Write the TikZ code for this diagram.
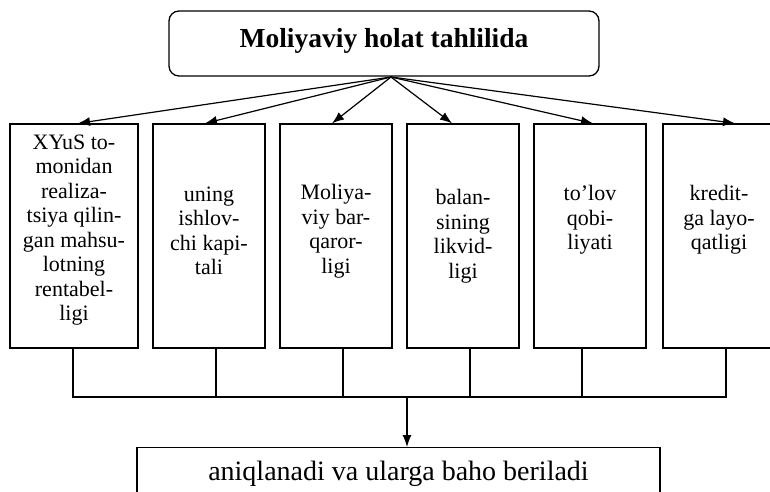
\documentclass[tikz,border=0pt]{standalone}
\usepackage{fontspec}
\setmainfont{Liberation Serif}
\usetikzlibrary{arrows.meta}

\begin{document}
\begin{tikzpicture}[x=1pt,y=-1pt,
  headbox/.style={draw, line width=1.3pt, rounded corners=10pt, minimum width=430pt, minimum height=65pt,
    text height=19pt, text depth=12pt, font=\fontsize{27.5}{30}\selectfont\bfseries},
  itembox/.style={draw, line width=1.3pt, minimum width=112pt, minimum height=224pt, inner sep=0pt},
  itemtext/.style={align=center, inner sep=0pt, font=\fontsize{22}{24.5}\selectfont},
  resbox/.style={draw, line width=1.3pt, minimum width=523pt, anchor=north, inner ysep=0pt,
    text height=33pt, text depth=37pt, font=\fontsize{28}{30}\selectfont},
  link/.style={line width=1.2pt},
  arr/.style={link, -{Latex[length=12pt,width=9pt]}}]
\useasboundingbox (0,0) rectangle (770,491);

% top block
\node[headbox] (head) at (384,43.5) {Moliyaviy holat tahlilida};
\coordinate (hub) at (391,77);

% the six items
\node[itembox, minimum width=128pt] (b1) at (74,236) {};
\node[itembox] (b2) at (209,236) {};
\node[itembox] (b3) at (336,236) {};
\node[itembox] (b4) at (463,236) {};
\node[itembox] (b5) at (590,236) {};
\node[itembox] (b6) at (719,236) {};
\node[itemtext] (t1) at ([yshift=6pt]b1.center) {XYuS to-\\monidan\\realiza-\\tsiya qilin-\\gan mahsu-\\lotning\\rentabel-\\ligi};
\node[itemtext] (t2) at ([yshift=5pt]b2.center) {uning\\ishlov-\\chi kapi-\\tali};
\node[itemtext] (t3) at ([yshift=5pt]b3.center) {Moliya-\\viy bar-\\qaror-\\ligi};
\node[itemtext] (t4) at ([yshift=0pt]b4.center) {balan-\\sining\\likvid-\\ligi};
\node[itemtext] (t5) at ([yshift=16pt]b5.center) {to’lov\\qobi-\\liyati};
\node[itemtext] (t6) at ([yshift=16pt]b6.center) {kredit-\\ga layo-\\qatligi};

\draw[arr] (hub) -- ([xshift=4pt]b1.north);
\draw[arr] (hub) -- ([xshift=-4pt]b2.north);
\draw[arr] (hub) -- ([xshift=-4pt]b3.north);
\draw[arr] (hub) -- ([xshift=-11pt]b4.north);
\draw[arr] (hub) -- ([xshift=3pt]b5.north);
\draw[arr] (hub) -- ([xshift=16pt]b6.north);

% collecting bus
\coordinate (s1) at (73,397);
\coordinate (s2) at (216,397);
\coordinate (s3) at (343,397);
\coordinate (s4) at (470,397);
\coordinate (s5) at (582,397);
\coordinate (s6) at (726,397);
\draw[link] (s1 |- b1.south) -- (s1) -- (s6) -- (s6 |- b6.south);
\draw[link] (s2 |- b2.south) -- (s2);
\draw[link] (s3 |- b3.south) -- (s3);
\draw[link] (s4 |- b4.south) -- (s4);
\draw[link] (s5 |- b5.south) -- (s5);

% result
\node[resbox] (res) at (398.5,447) {aniqlanadi va ularga baho beriladi};
\coordinate (drop) at (407,397);
\draw[arr] (drop) -- (drop |- res.north);
\end{tikzpicture}
\end{document}
